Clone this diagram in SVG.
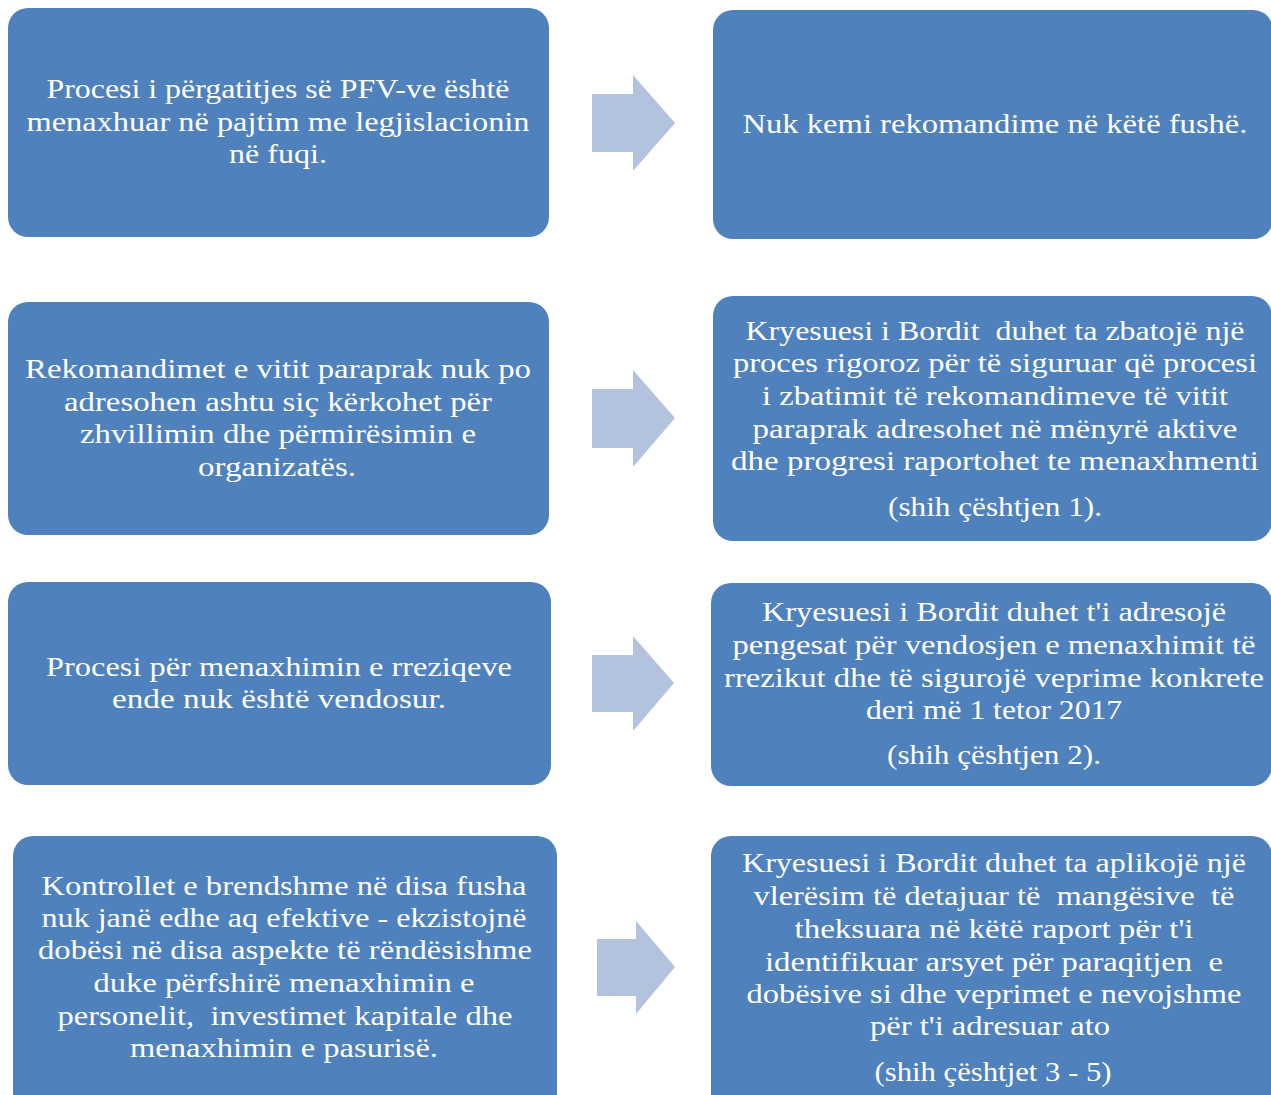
<svg xmlns="http://www.w3.org/2000/svg" width="1271" height="1095" viewBox="0 0 1271 1095">
<style>
.box{fill:#4F81BD;}
.arrow{fill:#B3C2DD;}
text{font-family:"Liberation Serif","Times New Roman",serif;font-size:28px;fill:#FFFFFF;text-anchor:middle;white-space:pre;}
</style>
<rect width="1271" height="1095" fill="#FFFFFF"/>
<g id="connectors">
<polygon class="arrow" points="592,94 633,94 633,75 675,123 633,171 633,152 592,152"/>
<polygon class="arrow" points="592,389 633,389 633,370 675,418 633,467 633,448 592,448"/>
<polygon class="arrow" points="592,655 633,655 633,636 674,683 633,731 633,712 592,712"/>
<polygon class="arrow" points="597,939 636,939 636,921 675,967 636,1014 636,996 597,996"/>
</g>
<g id="node1">
<rect class="box" x="8" y="8" width="541" height="229" rx="20"/>
<text x="278" y="98" textLength="463" lengthAdjust="spacingAndGlyphs">Procesi i përgatitjes së PFV-ve është</text>
<text x="278" y="131" textLength="503" lengthAdjust="spacingAndGlyphs">menaxhuar në pajtim me legjislacionin</text>
<text x="278" y="163" textLength="98" lengthAdjust="spacingAndGlyphs">në fuqi.</text>
</g>
<g id="node2">
<rect class="box" x="713" y="10" width="560" height="229" rx="20"/>
<text x="995" y="133" textLength="505" lengthAdjust="spacingAndGlyphs">Nuk kemi rekomandime në këtë fushë.</text>
</g>
<g id="node3">
<rect class="box" x="8" y="302" width="541" height="233" rx="20"/>
<text x="278" y="378" textLength="506" lengthAdjust="spacingAndGlyphs">Rekomandimet e vitit paraprak nuk po</text>
<text x="278" y="411" textLength="428" lengthAdjust="spacingAndGlyphs">adresohen ashtu siç kërkohet për</text>
<text x="278" y="443" textLength="396" lengthAdjust="spacingAndGlyphs">zhvillimin dhe përmirësimin e</text>
<text x="277" y="476" textLength="158" lengthAdjust="spacingAndGlyphs">organizatës.</text>
</g>
<g id="node4">
<rect class="box" x="713" y="296" width="559" height="245" rx="20"/>
<text x="995" y="340" textLength="499" lengthAdjust="spacingAndGlyphs">Kryesuesi i Bordit  duhet ta zbatojë një</text>
<text x="995" y="372" textLength="524" lengthAdjust="spacingAndGlyphs">proces rigoroz për të siguruar që procesi</text>
<text x="995" y="405" textLength="466" lengthAdjust="spacingAndGlyphs">i zbatimit të rekomandimeve të vitit</text>
<text x="995" y="438" textLength="485" lengthAdjust="spacingAndGlyphs">paraprak adresohet në mënyrë aktive</text>
<text x="995" y="470" textLength="528" lengthAdjust="spacingAndGlyphs">dhe progresi raportohet te menaxhmenti</text>
<text x="995" y="516" textLength="214" lengthAdjust="spacingAndGlyphs">(shih çështjen 1).</text>
</g>
<g id="node5">
<rect class="box" x="8" y="582" width="543" height="203" rx="20"/>
<text x="279" y="676" textLength="466" lengthAdjust="spacingAndGlyphs">Procesi për menaxhimin e rreziqeve</text>
<text x="279" y="708" textLength="334" lengthAdjust="spacingAndGlyphs">ende nuk është vendosur.</text>
</g>
<g id="node6">
<rect class="box" x="711" y="583" width="561" height="203" rx="20"/>
<text x="994" y="621" textLength="464" lengthAdjust="spacingAndGlyphs">Kryesuesi i Bordit duhet t'i adresojë</text>
<text x="994" y="654" textLength="523" lengthAdjust="spacingAndGlyphs">pengesat për vendosjen e menaxhimit të</text>
<text x="994" y="687" textLength="540" lengthAdjust="spacingAndGlyphs">rrezikut dhe të sigurojë veprime konkrete</text>
<text x="994" y="719" textLength="256" lengthAdjust="spacingAndGlyphs">deri më 1 tetor 2017</text>
<text x="994" y="764" textLength="214" lengthAdjust="spacingAndGlyphs">(shih çështjen 2).</text>
</g>
<g id="node7">
<rect class="box" x="13" y="836" width="544" height="280" rx="20"/>
<text x="284" y="895" textLength="485" lengthAdjust="spacingAndGlyphs">Kontrollet e brendshme në disa fusha</text>
<text x="284" y="927" textLength="485" lengthAdjust="spacingAndGlyphs">nuk janë edhe aq efektive - ekzistojnë</text>
<text x="285" y="959" textLength="494" lengthAdjust="spacingAndGlyphs">dobësi në disa aspekte të rëndësishme</text>
<text x="284" y="992" textLength="381" lengthAdjust="spacingAndGlyphs">duke përfshirë menaxhimin e</text>
<text x="285" y="1025" textLength="455" lengthAdjust="spacingAndGlyphs">personelit,  investimet kapitale dhe</text>
<text x="284" y="1057" textLength="308" lengthAdjust="spacingAndGlyphs">menaxhimin e pasurisë.</text>
</g>
<g id="node8">
<rect class="box" x="711" y="836" width="561" height="280" rx="20"/>
<text x="994" y="872" textLength="504" lengthAdjust="spacingAndGlyphs">Kryesuesi i Bordit duhet ta aplikojë një</text>
<text x="994" y="905" textLength="481" lengthAdjust="spacingAndGlyphs">vlerësim të detajuar të  mangësive  të</text>
<text x="994" y="938" textLength="399" lengthAdjust="spacingAndGlyphs">theksuara në këtë raport për t'i</text>
<text x="994" y="971" textLength="458" lengthAdjust="spacingAndGlyphs">identifikuar arsyet për paraqitjen  e</text>
<text x="994" y="1003" textLength="495" lengthAdjust="spacingAndGlyphs">dobësive si dhe veprimet e nevojshme</text>
<text x="990" y="1035" textLength="240" lengthAdjust="spacingAndGlyphs">për t'i adresuar ato</text>
<text x="993" y="1081" textLength="237" lengthAdjust="spacingAndGlyphs">(shih çështjet 3 - 5)</text>
</g>
</svg>
